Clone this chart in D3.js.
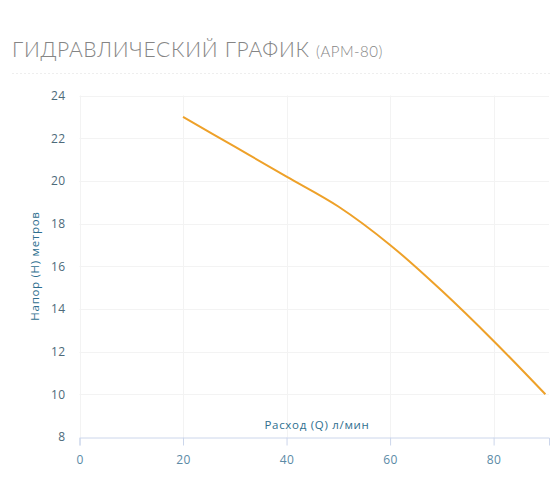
<!DOCTYPE html>
<html>
<head>
<meta charset="utf-8">
<script src="https://cdn.jsdelivr.net/npm/d3@7"></script>
<style>
  body { margin: 0; background: #fff; }
  svg { display: block; }
</style>
</head>
<body>
<div id="chart"></div>
<script>
// Flow (l/min) and head (m)
const flowValues = [20, 30, 40, 50, 60, 70, 80, 90];
const headValues = [23, 21.6, 20.2, 18.8, 17.0, 14.85, 12.5, 10];
const xTicks = [0, 20, 40, 60, 80];
const yTicks = [8, 10, 12, 14, 16, 18, 20, 22, 24];

const width = 560;
const height = 504;

const svg = d3.select("#chart").append("svg").attr("width", width).attr("height", height);

// Title
const title = svg.append("text").attr("x", 12).attr("y", 57).attr("fill", "#858585")
  .style("font-family", "Lato, 'Open Sans', sans-serif").style("font-weight", "300");
title.append("tspan").style("font-size", "21px").style("letter-spacing", "0.7px").text("ГИДРАВЛИЧЕСКИЙ ГРАФИК ");
title.append("tspan").style("font-size", "15px").style("letter-spacing", "0.5px").text("(АРМ-80)");

svg.append("line")
  .attr("x1", 12).attr("x2", 550).attr("y1", 73.5).attr("y2", 73.5)
  .attr("stroke", "#eeeeee").attr("stroke-dasharray", "2,2");

// Scales
const x = d3.scaleLinear().domain([0, 90.7]).range([79.5, 549]);
const y = d3.scaleLinear().domain([8, 24]).range([437, 95.5]);

// Grid lines
svg.append("g").selectAll("line").data(yTicks.slice(1)).join("line")
  .attr("x1", x(0)).attr("x2", x(90.7))
  .attr("y1", (d) => Math.round(y(d)) + 0.5).attr("y2", (d) => Math.round(y(d)) + 0.5)
  .attr("stroke", "#f3f3f3");

svg.append("g").selectAll("line").data(xTicks).join("line")
  .attr("x1", (d) => Math.round(x(d)) + 0.5).attr("x2", (d) => Math.round(x(d)) + 0.5)
  .attr("y1", y(24)).attr("y2", y(8))
  .attr("stroke", "#f3f3f3");

// X axis
const xAxis = svg.append("g").attr("transform", `translate(0,${Math.round(y(8)) + 0.5})`)
  .call(d3.axisBottom(x).tickValues(xTicks).tickSize(8).tickPadding(10));
xAxis.select(".domain").attr("stroke", "#ccd6eb");
xAxis.selectAll(".tick line").attr("stroke", "#ccd6eb");
xAxis.selectAll("text").attr("fill", "#5b8aa6").style("font-size", "12px")
  .style("letter-spacing", "0.4px").style("font-family", "'Open Sans', sans-serif");

// Y axis
const yAxis = svg.append("g").attr("transform", `translate(${x(0)},0)`)
  .call(d3.axisLeft(y).tickValues(yTicks).tickSize(0).tickPadding(14));
yAxis.select(".domain").remove();
yAxis.selectAll("text").attr("fill", "#4d6a7a").style("font-size", "12px")
  .style("letter-spacing", "0.4px").style("font-family", "'Open Sans', sans-serif");

// Axis titles
svg.append("text").attr("x", 317).attr("y", 429).attr("text-anchor", "middle")
  .attr("fill", "#2f6f8f").style("font-size", "11.5px").style("letter-spacing", "0.7px")
  .style("font-family", "'Open Sans', sans-serif")
  .text("Расход (Q) л/мин");

svg.append("text").attr("transform", "translate(39,266) rotate(-90)").attr("text-anchor", "middle")
  .attr("fill", "#2f6f8f").style("font-size", "11.5px").style("letter-spacing", "0.7px")
  .style("font-family", "'Open Sans', sans-serif")
  .text("Напор (H) метров");

// Curve
const points = flowValues.map((d, i) => [d, headValues[i]]);
const line = d3.line().x((d) => x(d[0])).y((d) => y(d[1])).curve(d3.curveCatmullRom);

svg.append("path").datum(points)
  .attr("d", line)
  .attr("fill", "none")
  .attr("stroke", "#eea129")
  .attr("stroke-width", 2);
</script>
</body>
</html>
